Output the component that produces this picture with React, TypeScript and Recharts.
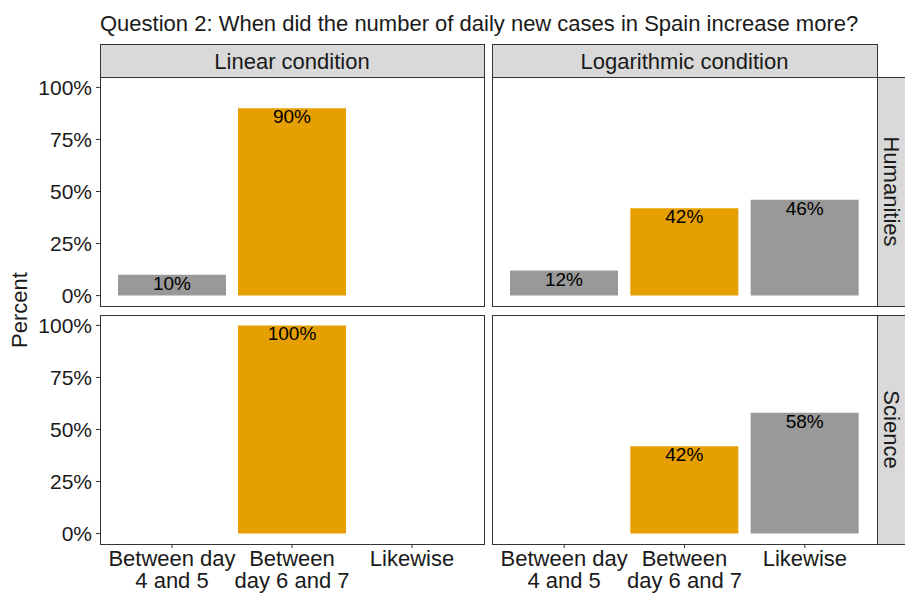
import React from 'react';
import { BarChart, Bar, XAxis, YAxis, Cell, LabelList } from 'recharts';

const categories = ['Between day\n4 and 5', 'Between\nday 6 and 7', 'Likewise'];
const humanitiesLinear = [10, 90, null];
const humanitiesLog = [12, 42, 46];
const scienceLinear = [null, 100, null];
const scienceLog = [null, 42, 58];
const barColors = ['#999999', '#E69F00', '#999999'];
const yTicks = [0, 25, 50, 75, 100];
const conditions = ['Linear condition', 'Logarithmic condition'];
const groups = ['Humanities', 'Science'];

const FONT = '"Liberation Sans", Arial, sans-serif';
const TEXT = '#1a1a1a';

const toRows = (vals: (number | null)[]) => categories.map((cat, i) => ({ cat, pct: vals[i] }));

const BarLabel = (props: any) => {
  const { x, y, width, value } = props;
  if (value == null) return null;
  return (
    <text x={x + width / 2} y={y + 15} textAnchor="middle" fontSize={19} fill="#000" fontFamily={FONT}>
      {value}%
    </text>
  );
};

const CatTick = (props: any) => {
  const { x, y, payload } = props;
  const lines = String(payload.value).split('\n');
  return (
    <text x={x} y={y} textAnchor="middle" fontSize={22} fill={TEXT} fontFamily={FONT}>
      {lines.map((l, i) => (
        <tspan key={i} x={x} dy={i === 0 ? '0.71em' : '1.02em'}>{l}</tspan>
      ))}
    </text>
  );
};

type PanelProps = {
  vals: (number | null)[];
  left: number;
  top: number;
  width: number;
  showY: boolean;
  showX: boolean;
};

const Panel = ({ vals, left, top, width, showY, showX }: PanelProps) => (
  <BarChart
    width={width}
    height={showX ? 279 : 229}
    data={toRows(vals)}
    margin={{ top: 0, right: 0, bottom: 0, left: 0 }}
    style={{ position: 'absolute', left, top }}
  >
    <XAxis
      dataKey="cat"
      type="category"
      hide={!showX}
      height={50}
      padding={{ left: 12, right: 12 }}
      axisLine={false}
      tickSize={4}
      tickMargin={2}
      tickLine={{ stroke: '#333' }}
      tick={<CatTick />}
      interval={0}
    />
    <YAxis
      type="number"
      domain={[-5, 105]}
      ticks={yTicks}
      interval={0}
      hide={!showY}
      width={100}
      axisLine={false}
      tickSize={4}
      tickMargin={4}
      tickLine={{ stroke: '#333' }}
      tickFormatter={(v: number) => `${v}%`}
      tick={{ fontSize: 21, fill: TEXT, fontFamily: FONT }}
    />
    <Bar dataKey="pct" barSize={108} isAnimationActive={false}>
      {vals.map((_, i) => (
        <Cell key={i} fill={barColors[i]} />
      ))}
      <LabelList dataKey="pct" content={<BarLabel />} />
    </Bar>
  </BarChart>
);

const panelX = [[100, 384], [492, 385]];
const panelY = [77, 315];
const PANEL_H = 229;

export default function App() {
  return (
    <div
      style={{
        position: 'absolute', left: 0, top: 0, width: 905, height: 594,
        overflow: 'hidden', background: '#fff', fontFamily: FONT,
      }}
    >
      <Panel vals={humanitiesLinear} left={0} top={77} width={484} showY showX={false} />
      <Panel vals={humanitiesLog} left={492} top={77} width={385} showY={false} showX={false} />
      <Panel vals={scienceLinear} left={0} top={315} width={484} showY showX />
      <Panel vals={scienceLog} left={492} top={315} width={385} showY={false} showX />
      <svg width={905} height={594} style={{ position: 'absolute', left: 0, top: 0, pointerEvents: 'none' }}>
        <text x={100} y={31} fontSize={22} fill={TEXT} fontFamily={FONT}>
          Question 2: When did the number of daily new cases in Spain increase more?
        </text>
        <text
          transform={`translate(19, 310) rotate(-90)`}
          textAnchor="middle"
          dominantBaseline="central"
          fontSize={22}
          fill={TEXT}
          fontFamily={FONT}
        >
          Percent
        </text>
        {panelX.map(([x, w], ci) => (
          <g key={ci}>
            <rect x={x + 0.5} y={44.5} width={w} height={33} fill="#D9D9D9" stroke="#333" />
            <text x={x + w / 2} y={61} textAnchor="middle" dominantBaseline="central" fontSize={22} fill={TEXT} fontFamily={FONT}>
              {conditions[ci]}
            </text>
          </g>
        ))}
        {panelY.map((y, ri) => (
          <g key={ri}>
            <rect x={877.5} y={y + 0.5} width={40} height={PANEL_H} fill="#D9D9D9" stroke="#333" />
            <text
              transform={`translate(891, ${y + PANEL_H / 2}) rotate(90)`}
              textAnchor="middle"
              dominantBaseline="central"
              fontSize={22}
              fill={TEXT}
              fontFamily={FONT}
            >
              {groups[ri]}
            </text>
          </g>
        ))}
        {panelY.map((y) =>
          panelX.map(([x, w]) => (
            <rect key={`${x}-${y}`} x={x + 0.5} y={y + 0.5} width={w} height={PANEL_H} fill="none" stroke="#333" />
          ))
        )}
      </svg>
    </div>
  );
}
